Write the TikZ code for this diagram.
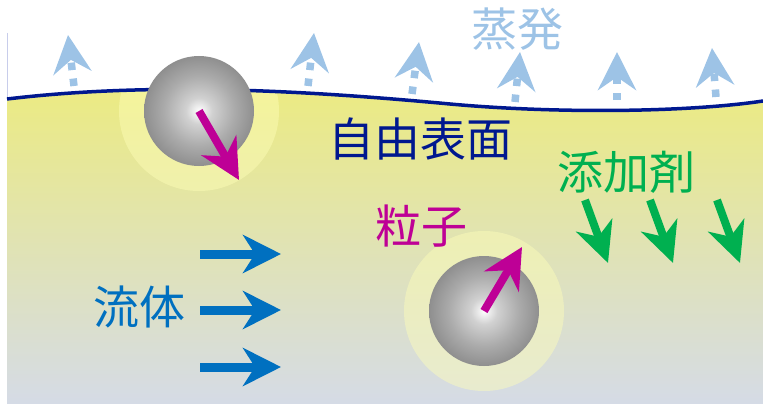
\documentclass[tikz,border=0pt]{standalone}
\usepackage{fontspec}
\newfontfamily\jpfont{Noto Sans CJK JP}
\usetikzlibrary{arrows.meta}

\definecolor{surfblue}{RGB}{0,24,143}
\definecolor{vapour}{RGB}{157,195,230}
\definecolor{flowblue}{RGB}{0,112,192}
\definecolor{addgreen}{RGB}{0,176,80}
\definecolor{partpink}{RGB}{190,0,150}
\definecolor{liqtop}{RGB}{236,235,128}
\definecolor{liqbot}{RGB}{213,219,230}
\definecolor{halo}{RGB}{255,255,185}
\definecolor{edgeline}{RGB}{200,205,235}

% grey sphere, white in the middle
\pgfdeclareradialshading{particle}{\pgfpoint{0bp}{0bp}}{color(0bp)=(white); color(6bp)=(white!82!black); color(16bp)=(white!67!black); color(25bp)=(white!56!black); color(50bp)=(white!56!black)}

\tikzset{
  jtext/.style={font=\jpfont\fontsize{46}{46}\selectfont, inner sep=0pt},
  evap/.style={vapour, line width=7.5pt, dash pattern=on 7.5pt off 8.5pt,
    -{Stealth[length=38pt, width=38pt, inset=13pt]}},
  flow/.style={flowblue, line width=9pt, -{Stealth[length=38pt, width=38pt, inset=12pt]}},
  sink/.style={addgreen, line width=8pt, -{Stealth[length=40pt, width=38pt, inset=12pt]}},
  spin/.style={partpink, line width=8pt, -{Stealth[length=40pt, width=40pt, inset=13pt]}},
}

\begin{document}
\begin{tikzpicture}[x=1pt, y=-1pt]
\useasboundingbox (0,0) rectangle (763,404);

% liquid below the free surface
\shade[top color=liqtop, bottom color=liqbot] (7,404) -- (7,99)
  .. controls (150,82) and (300,90) .. (450,104)
  .. controls (560,114) and (690,112) .. (763,101) -- (763,404) -- cycle;
\draw[edgeline, line width=1pt] (7,33) -- (7,100);

\coordinate (p1) at (199,111);
\coordinate (p2) at (484,311);

% halos round the particles
\begin{scope}
\clip (7,404) -- (7,99)
  .. controls (150,82) and (300,90) .. (450,104)
  .. controls (560,114) and (690,112) .. (763,101) -- (763,404) -- cycle;
\fill[halo, opacity=0.45] (p1) circle (80);
\fill[halo, opacity=0.45] (p2) circle (80);
\end{scope}

% free surface
\draw[surfblue, line width=3.5pt] (7,99) .. controls (150,82) and (300,90) .. (450,104)
  .. controls (560,114) and (690,112) .. (763,101);

% evaporation
\foreach \a/\b/\c/\d in {74/86/68/35, 308/86/314/33, 412/94/419/42,
                         515/102/520/52, 617/100/617/52, 716/97/712/48}
  \draw[evap] (\a,\b) -- (\c,\d);

% particles
\shade[shading=particle] (p1) circle (55);
\shade[shading=particle] (p2) circle (55);
\draw[spin] (p1) -- (239,180);
\draw[spin] (p2) -- (522,247);

% flow
\foreach \y in {254,310,367}
  \draw[flow] (200,\y) -- (281,\y);

% additive
\foreach \x in {585,650,717}
  \draw[sink] (\x,200) -- ++(23,63);

\node[jtext, vapour]    (evaptext) at (517,29)  {蒸発};
\node[jtext, surfblue]  (surftext) at (420,139) {自由表面};
\node[jtext, addgreen]  (addtext)  at (626,172) {添加剤};
\node[jtext, partpink]  (parttext) at (421,226) {粒子};
\node[jtext, flowblue]  (flowtext) at (139,307) {流体};
\end{tikzpicture}
\end{document}
